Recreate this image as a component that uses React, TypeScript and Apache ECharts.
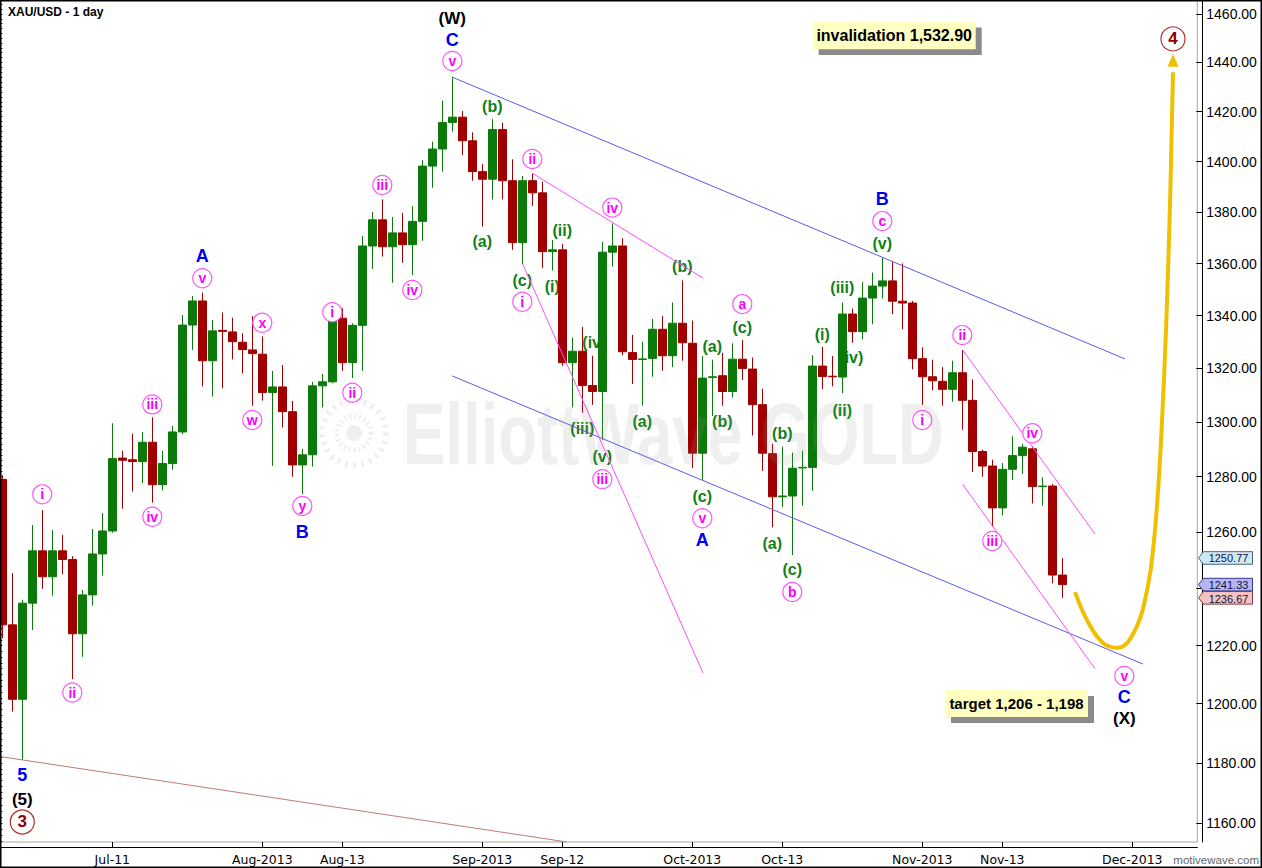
import React, { useEffect, useRef } from "react";
import * as echarts from "echarts";

// [date, open, high, low, close]
const candles: [string, number, number, number, number][] = [
  ["2013-06-26", 1279.0, 1280.5, 1222.5, 1227.2],
  ["2013-06-27", 1227.2, 1245.4, 1197.3, 1201.5],
  ["2013-06-28", 1201.5, 1236.0, 1180.9, 1234.8],
  ["2013-07-01", 1234.8, 1262.5, 1225.4, 1253.3],
  ["2013-07-02", 1253.3, 1267.9, 1239.8, 1244.1],
  ["2013-07-03", 1244.1, 1260.7, 1237.4, 1253.3],
  ["2013-07-04", 1253.3, 1259.0, 1245.0, 1250.2],
  ["2013-07-05", 1250.2, 1251.4, 1208.4, 1224.1],
  ["2013-07-08", 1224.1, 1239.4, 1216.1, 1237.7],
  ["2013-07-09", 1237.7, 1261.1, 1233.9, 1252.2],
  ["2013-07-10", 1252.2, 1266.8, 1244.5, 1260.4],
  ["2013-07-11", 1260.4, 1299.6, 1259.8, 1286.6],
  ["2013-07-12", 1286.8, 1289.5, 1268.4, 1286.0],
  ["2013-07-15", 1286.2, 1295.8, 1274.6, 1285.5],
  ["2013-07-16", 1285.5, 1296.4, 1277.7, 1292.6],
  ["2013-07-17", 1292.6, 1301.8, 1270.6, 1277.1],
  ["2013-07-18", 1277.1, 1289.4, 1275.0, 1284.8],
  ["2013-07-19", 1284.8, 1298.7, 1282.5, 1296.4],
  ["2013-07-22", 1296.4, 1340.2, 1295.5, 1336.4],
  ["2013-07-23", 1336.4, 1347.5, 1327.0, 1345.6],
  ["2013-07-24", 1345.6, 1348.8, 1313.3, 1322.9],
  ["2013-07-25", 1322.9, 1338.3, 1309.5, 1334.2],
  ["2013-07-26", 1334.4, 1341.2, 1312.6, 1334.0],
  ["2013-07-29", 1333.8, 1339.2, 1323.4, 1330.1],
  ["2013-07-30", 1329.9, 1333.3, 1318.1, 1327.1],
  ["2013-07-31", 1327.0, 1339.8, 1306.1, 1325.6],
  ["2013-08-01", 1325.4, 1332.1, 1308.0, 1311.0],
  ["2013-08-02", 1311.0, 1319.1, 1284.0, 1313.1],
  ["2013-08-05", 1313.1, 1321.3, 1298.0, 1303.9],
  ["2013-08-06", 1303.9, 1307.9, 1280.0, 1284.3],
  ["2013-08-07", 1284.3, 1290.2, 1273.7, 1288.0],
  ["2013-08-08", 1288.0, 1315.0, 1283.7, 1313.5],
  ["2013-08-09", 1313.5, 1318.0, 1305.5, 1315.0],
  ["2013-08-12", 1315.0, 1344.3, 1314.5, 1339.0],
  ["2013-08-13", 1339.0, 1342.8, 1319.1, 1322.2],
  ["2013-08-14", 1322.2, 1337.1, 1316.4, 1336.3],
  ["2013-08-15", 1336.3, 1370.7, 1319.1, 1366.8],
  ["2013-08-16", 1366.8, 1380.1, 1357.9, 1377.0],
  ["2013-08-19", 1377.0, 1385.0, 1362.7, 1366.5],
  ["2013-08-20", 1366.5, 1378.1, 1352.6, 1371.9],
  ["2013-08-21", 1371.9, 1379.7, 1360.3, 1367.3],
  ["2013-08-22", 1367.3, 1382.4, 1355.5, 1376.4],
  ["2013-08-23", 1376.4, 1400.6, 1368.8, 1398.2],
  ["2013-08-26", 1398.2, 1408.0, 1389.6, 1405.0],
  ["2013-08-27", 1405.0, 1424.4, 1396.0, 1415.6],
  ["2013-08-28", 1415.6, 1434.2, 1412.0, 1417.8],
  ["2013-08-29", 1417.8, 1420.3, 1402.6, 1408.3],
  ["2013-08-30", 1408.3, 1411.7, 1392.4, 1396.0],
  ["2013-09-02", 1396.0, 1399.0, 1374.4, 1393.0],
  ["2013-09-03", 1393.0, 1417.0, 1385.0, 1412.8],
  ["2013-09-04", 1412.8, 1415.6, 1385.0, 1392.4],
  ["2013-09-05", 1392.4, 1400.9, 1365.3, 1368.1],
  ["2013-09-06", 1368.1, 1394.3, 1359.7, 1392.4],
  ["2013-09-09", 1392.4, 1395.3, 1382.5, 1387.6],
  ["2013-09-10", 1387.6, 1392.0, 1358.2, 1364.6],
  ["2013-09-11", 1364.6, 1369.1, 1357.3, 1365.3],
  ["2013-09-12", 1365.3, 1367.6, 1321.0, 1322.2],
  ["2013-09-13", 1322.2, 1331.6, 1305.5, 1326.5],
  ["2013-09-16", 1326.5, 1335.7, 1303.5, 1313.6],
  ["2013-09-17", 1313.6, 1324.8, 1306.4, 1311.4],
  ["2013-09-18", 1311.4, 1368.4, 1293.5, 1364.4],
  ["2013-09-19", 1364.4, 1375.6, 1358.8, 1366.8],
  ["2013-09-20", 1366.8, 1369.8, 1325.0, 1326.3],
  ["2013-09-23", 1326.0, 1332.7, 1314.2, 1323.4],
  ["2013-09-24", 1323.4, 1330.1, 1306.1, 1323.6],
  ["2013-09-25", 1323.8, 1338.7, 1316.9, 1334.8],
  ["2013-09-26", 1334.8, 1339.8, 1319.2, 1324.8],
  ["2013-09-27", 1324.8, 1345.0, 1320.5, 1337.1],
  ["2013-09-30", 1337.1, 1353.5, 1322.9, 1329.7],
  ["2013-10-01", 1329.5, 1338.1, 1283.2, 1288.6],
  ["2013-10-02", 1288.6, 1324.7, 1278.9, 1316.4],
  ["2013-10-03", 1316.6, 1323.3, 1302.3, 1316.9],
  ["2013-10-04", 1317.3, 1325.9, 1306.1, 1311.4],
  ["2013-10-07", 1311.4, 1329.5, 1309.1, 1323.5],
  ["2013-10-08", 1323.5, 1330.8, 1315.7, 1320.0],
  ["2013-10-09", 1319.8, 1324.1, 1295.1, 1306.5],
  ["2013-10-10", 1306.5, 1312.4, 1282.1, 1288.6],
  ["2013-10-11", 1288.4, 1292.0, 1261.7, 1272.7],
  ["2013-10-14", 1272.7, 1291.0, 1269.1, 1273.0],
  ["2013-10-15", 1273.0, 1288.8, 1251.8, 1283.1],
  ["2013-10-16", 1283.2, 1289.5, 1269.5, 1283.4],
  ["2013-10-17", 1283.4, 1325.0, 1274.9, 1320.9],
  ["2013-10-18", 1320.9, 1328.2, 1312.3, 1317.0],
  ["2013-10-21", 1317.1, 1324.7, 1313.3, 1316.9],
  ["2013-10-22", 1316.8, 1345.0, 1310.8, 1340.6],
  ["2013-10-23", 1340.6, 1342.7, 1329.7, 1333.9],
  ["2013-10-24", 1333.9, 1352.8, 1331.0, 1346.7],
  ["2013-10-25", 1346.7, 1356.5, 1336.7, 1351.3],
  ["2013-10-28", 1351.3, 1362.4, 1346.5, 1353.3],
  ["2013-10-29", 1353.3, 1361.0, 1340.6, 1345.5],
  ["2013-10-30", 1345.5, 1360.0, 1334.8, 1344.8],
  ["2013-10-31", 1344.8, 1345.6, 1319.7, 1323.7],
  ["2013-11-01", 1323.7, 1328.0, 1306.4, 1316.9],
  ["2013-11-04", 1316.9, 1323.3, 1311.8, 1315.4],
  ["2013-11-05", 1315.2, 1320.5, 1306.1, 1312.2],
  ["2013-11-06", 1312.2, 1322.9, 1307.6, 1318.4],
  ["2013-11-07", 1318.4, 1327.0, 1297.2, 1308.1],
  ["2013-11-08", 1308.1, 1315.9, 1281.7, 1289.2],
  ["2013-11-11", 1289.2, 1289.8, 1280.0, 1283.9],
  ["2013-11-12", 1283.9, 1286.2, 1261.9, 1268.7],
  ["2013-11-13", 1268.7, 1285.0, 1266.0, 1282.7],
  ["2013-11-14", 1282.7, 1294.8, 1278.9, 1287.7],
  ["2013-11-15", 1287.7, 1292.0, 1281.0, 1290.8],
  ["2013-11-18", 1290.2, 1291.0, 1270.3, 1276.4],
  ["2013-11-19", 1276.4, 1279.8, 1269.5, 1276.6],
  ["2013-11-20", 1276.6, 1277.4, 1241.8, 1244.7],
  ["2013-11-21", 1244.7, 1250.77, 1236.67, 1241.33],
];

const futureDates = [
  "2013-11-22", "2013-11-25", "2013-11-26", "2013-11-27", "2013-11-28", "2013-11-29",
  "2013-12-02", "2013-12-03", "2013-12-04", "2013-12-05", "2013-12-06", "2013-12-09", "2013-12-10",
];

const yTicks = [1160, 1180, 1200, 1220, 1240, 1260, 1280, 1300, 1320, 1340, 1360, 1380, 1400, 1420, 1440, 1460];
// 1240.00 sits under the last-price tags in the reference, so it is not labelled
const yLabelTicks = [1160, 1180, 1200, 1220, 1260, 1280, 1300, 1320, 1340, 1360, 1380, 1400, 1420, 1440, 1460];
const yMinorStep = 2;
const yLow = 1153.72;
const yHigh = 1465.82;

const xTickPos = [11, 26, 34, 48, 56, 69, 78, 92, 100, 113];
const xTickText = ["Jul-11", "Aug-2013", "Aug-13", "Sep-2013", "Sep-12", "Oct-2013", "Oct-13", "Nov-2013", "Nov-13", "Dec-2013"];

// [text, bar position, price]
const minuteCircles: [string, number, number][] = [
  ["i", 4, 1273.6], ["ii", 7, 1203.8], ["iii", 15, 1306.6], ["iv", 15, 1265.5], ["v", 20, 1354.3],
  ["w", 25, 1300.8], ["x", 26, 1337.3], ["y", 30, 1269.4], ["i", 33, 1341.3], ["ii", 35, 1310.9],
  ["iii", 38, 1390.7], ["iv", 41, 1349.8], ["v", 45, 1440.6], ["i", 52, 1345.3], ["ii", 53, 1401.0],
  ["iii", 60, 1279.1], ["iv", 61, 1381.8], ["v", 70, 1265.0], ["a", 74, 1344.4], ["b", 79, 1238.7],
  ["c", 88, 1376.5], ["i", 92, 1300.8], ["ii", 96, 1332.6], ["iii", 99, 1256.8], ["iv", 103, 1295.9],
  ["v", 112.2, 1209.5],
];
const minuetteLabels: [string, number, number][] = [
  ["(b)", 49, 1422.0], ["(a)", 48, 1368.5], ["(c)", 52, 1353.6], ["(ii)", 56, 1373.0], ["(i)", 55, 1351.1],
  ["(iv)", 59.2, 1329.7], ["(iii)", 58, 1297.7], ["(v)", 60, 1287.3], ["(b)", 68, 1358.8], ["(a)", 64, 1300.4],
  ["(a)", 71, 1328.2], ["(c)", 74, 1335.6], ["(b)", 72, 1300.2], ["(c)", 70, 1272.8], ["(b)", 78, 1295.9],
  ["(a)", 77, 1256.0], ["(c)", 79, 1246.5], ["(i)", 82, 1332.9], ["(iii)", 84, 1350.7], ["(iv)", 84.9, 1324.3],
  ["(ii)", 84, 1304.5], ["(v)", 88, 1367.9],
];
const minorLabels: [string, number, number][] = [
  ["A", 20, 1363.0], ["B", 30, 1260.0], ["C", 45, 1449.2], ["A", 70, 1257.2], ["B", 88, 1385.2],
  ["C", 112.2, 1202.3], ["5", 2, 1175.9],
];
const intermediateLabels: [string, number, number][] = [
  ["(W)", 45, 1458.3], ["(5)", 2, 1167.6], ["(X)", 112.2, 1194.8],
];
const primaryCircles: [string, number, number][] = [
  ["3", 2, 1160.3], ["4", 117.07, 1449.7],
];

// [pos1, price1, pos2, price2]
const blueLines: [number, number, number, number][] = [
  [45, 1434.0, 112.27, 1323.6],
  [45, 1317.2, 114.07, 1213.6],
];
const pinkLines: [number, number, number, number][] = [
  [53.04, 1395.3, 70.1, 1354.3],
  [52.04, 1359.8, 70.07, 1210.5],
  [96.04, 1327.0, 109.27, 1259.3],
  [96.04, 1277.2, 109.27, 1212.0],
];
const brownLines: [number, number, number, number][] = [
  [-0.23, 1182.1, 56.47, 1153.72],
];
const projectionPath: [number, number][] = [
  [107.27, 1238.7], [108.57, 1228.2], [110.07, 1220.9], [111.57, 1219.2], [112.97, 1223.3],
  [114.27, 1235.9], [115.27, 1260.8], [116.07, 1308.2], [116.67, 1369.1], [117.07, 1436.0],
];
const projectionTip: [number, number] = [117.07, 1440.9];

// [price, fill, stroke, text nudge]
const priceTags: [number, string, string, number][] = [
  [1250.77, "#cfe9f2", "#46687a", 0],
  [1241.33, "#b6b6f5", "#383890", -0.5],
  [1236.67, "#f5c3c3", "#8c3c3c", 0.5],
];

const FONT = '"Liberation Sans", Arial, Helvetica, sans-serif';
const L = (v: number) => Math.log(v);

function textSeries(items: [string, number, number][], color: string, size: number, z: number) {
  return {
    type: "scatter",
    xAxisIndex: 1,
    yAxisIndex: 0,
    silent: true,
    z,
    symbolSize: 1,
    itemStyle: { color: "rgba(0,0,0,0)", opacity: 1 },
    label: {
      show: true,
      position: "inside",
      formatter: (p: any) => p.name,
      color,
      opacity: 1,
      fontFamily: FONT,
      fontWeight: "bold",
      fontSize: size,
    },
    emphasis: { disabled: true },
    data: items.map((d) => ({ name: d[0], value: [d[1], L(d[2])] })),
  };
}

function circleSeries(items: [string, number, number][], color: string, stroke: string, size: number, font: number) {
  return {
    type: "scatter",
    xAxisIndex: 1,
    yAxisIndex: 0,
    silent: true,
    z: 5,
    symbol: "circle",
    symbolSize: size,
    itemStyle: { color: "#ffffff", borderColor: stroke, borderWidth: 1.2, opacity: 1 },
    label: {
      show: true,
      position: "inside",
      formatter: (p: any) => p.name,
      color,
      opacity: 1,
      fontFamily: FONT,
      fontWeight: "bold",
      fontSize: font,
    },
    emphasis: { disabled: true },
    data: items.map((d) => ({ name: d[0], value: [d[1], L(d[2])] })),
  };
}

function segSeries(lines: [number, number, number, number][], color: string, width: number) {
  return lines.map((s) => ({
    type: "line",
    xAxisIndex: 1,
    yAxisIndex: 0,
    silent: true,
    z: 3,
    symbol: "none",
    lineStyle: { color, width, opacity: 1 },
    emphasis: { disabled: true },
    data: [[s[0], L(s[1])], [s[2], L(s[3])]],
  }));
}

export default function App() {
  const ref = useRef<HTMLDivElement>(null);

  useEffect(() => {
    if (!ref.current) return;
    const chart = echarts.init(ref.current, null, { renderer: "svg" });

    const categories = [...candles.map((c) => c[0]), ...futureDates];
    const yTickLn = yTicks.map(L);
    const yLabelLn = yLabelTicks.map(L);
    const minorLn: number[] = [];
    for (let v = 1154; v <= 1464; v += yMinorStep) minorLn.push(L(v));

    const option: any = {
      animation: false,
      backgroundColor: "#ffffff",
      grid: {
        left: -2.7,
        top: 0,
        width: 1200,
        height: 842,
        show: true,
        borderColor: "#a9a99c",
        borderWidth: 1,
        backgroundColor: "transparent",
        outerBoundsMode: "none",
        containLabel: false,
      },
      xAxis: [
        { type: "category", data: categories, show: false, boundaryGap: true },
        {
          type: "value",
          min: -0.5,
          max: 119.5,
          position: "bottom",
          offset: 5,
          axisLine: { show: true, onZero: false, lineStyle: { color: "#000", width: 1 } },
          axisTick: { show: true, inside: true, length: 5, customValues: xTickPos, lineStyle: { color: "#000" } },
          axisLabel: {
            show: true,
            customValues: xTickPos,
            formatter: (v: number) => {
              let best = 0;
              for (let i = 0; i < xTickPos.length; i++) if (Math.abs(xTickPos[i] - v) < Math.abs(xTickPos[best] - v)) best = i;
              return xTickText[best];
            },
            fontFamily: '"DejaVu Sans", sans-serif',
            fontSize: 12.5,
            color: "#000",
            margin: 6,
          },
          splitLine: { show: false },
        },
      ],
      yAxis: [
        {
          type: "value",
          min: L(yLow),
          max: L(yHigh),
          position: "right",
          offset: 5,
          axisLine: { show: true, onZero: false, lineStyle: { color: "#000", width: 1 } },
          axisTick: { show: true, inside: true, length: 6, customValues: yTickLn, lineStyle: { color: "#000" } },
          axisLabel: {
            show: true,
            customValues: yLabelLn,
            formatter: (v: number) => Math.round(Math.exp(v)).toFixed(2),
            fontFamily: FONT,
            fontSize: 14,
            color: "#000",
            margin: 4,
          },
          splitLine: { show: false },
        },
        {
          type: "value",
          min: L(yLow),
          max: L(yHigh),
          position: "right",
          offset: 5,
          axisLine: { show: false },
          axisTick: { show: true, inside: true, length: 3, customValues: minorLn, lineStyle: { color: "#000" } },
          axisLabel: { show: false },
          splitLine: { show: false },
        },
      ],
      series: [
        textSeries(minuetteLabels, "#0f7f17", 16, 1),
        {
          type: "candlestick",
          xAxisIndex: 0,
          yAxisIndex: 0,
          silent: true,
          z: 2,
          barWidth: 8,
          itemStyle: {
            color: "#0b7a0b",
            color0: "#a00000",
            borderColor: "#0b7a0b",
            borderColor0: "#a00000",
            borderWidth: 1,
            opacity: 1,
          },
          emphasis: { disabled: true },
          data: candles.map((c) => [L(c[1]), L(c[4]), L(c[3]), L(c[2])]),
        },
        ...segSeries(blueLines, "#5a5aee", 1),
        ...segSeries(pinkLines, "#ff4dff", 1),
        ...segSeries(brownLines, "#c07a7a", 1),
        {
          type: "line",
          xAxisIndex: 1,
          yAxisIndex: 0,
          silent: true,
          z: 4,
          symbol: "none",
          smooth: 0.4,
          lineStyle: { color: "#f0c000", width: 4, opacity: 1 },
          emphasis: { disabled: true },
          data: projectionPath.map((p) => [p[0], L(p[1])]),
        },
        {
          type: "scatter",
          xAxisIndex: 1,
          yAxisIndex: 0,
          silent: true,
          z: 4,
          symbol: "triangle",
          symbolSize: [11, 13],
          itemStyle: { color: "#f0c000", opacity: 1 },
          emphasis: { disabled: true },
          data: [[projectionTip[0], L(projectionTip[1])]],
        },
        circleSeries(minuteCircles, "#ff00ff", "#ff55ff", 19, 14),
        textSeries(minorLabels, "#0000ee", 18, 5),
        textSeries(intermediateLabels, "#000000", 17, 5),
        circleSeries(primaryCircles, "#8b0000", "#b03030", 24, 17),
      ],
    };

    chart.setOption(option);

    const graphics: any[] = [
      // watermark
      {
        type: "circle", silent: true, z: 10,
        shape: { cx: 354, cy: 433, r: 32 },
        style: { fill: "none", stroke: "rgba(150,150,150,0.15)", lineWidth: 6, lineDash: [3, 5] },
      },
      {
        type: "circle", silent: true, z: 10,
        shape: { cx: 354, cy: 433, r: 17 },
        style: { fill: "none", stroke: "rgba(150,150,150,0.15)", lineWidth: 5, lineDash: [2, 3] },
      },
      {
        type: "circle", silent: true, z: 10,
        shape: { cx: 354, cy: 433, r: 8 },
        style: { fill: "rgba(150,150,150,0.15)" },
      },
      {
        type: "text", silent: true, z: 10,
        x: 403, y: 434, scaleX: 0.73,
        style: {
          x: 0, y: 0,
          text: "ElliottWave GOLD",
          font: 'bold 87px "Liberation Sans", Arial, sans-serif',
          fill: "rgba(150,150,150,0.15)",
          textAlign: "left", textVerticalAlign: "middle",
          align: "left", verticalAlign: "middle",
        },
      },
      // invalidation box
      { type: "rect", silent: true, z: 20, shape: { x: 818.7, y: 27.5, width: 163, height: 27.6 }, style: { fill: "#8a8a8a" } },
      { type: "rect", silent: true, z: 21, shape: { x: 812.7, y: 21.7, width: 163, height: 27.6 }, style: { fill: "#ffffc2" } },
      {
        type: "text", silent: true, z: 22, x: 894.2, y: 35.5,
        style: {
          x: 0, y: 0, text: "invalidation 1,532.90", font: `bold 16px ${FONT}`, fill: "#000",
          textAlign: "center", textVerticalAlign: "middle", align: "center", verticalAlign: "middle",
        },
      },
      // target box
      { type: "rect", silent: true, z: 20, shape: { x: 951, y: 696, width: 143, height: 27 }, style: { fill: "#8a8a8a" } },
      { type: "rect", silent: true, z: 21, shape: { x: 945, y: 690, width: 143, height: 27 }, style: { fill: "#ffffc2" } },
      {
        type: "text", silent: true, z: 22, x: 1016.5, y: 703.5,
        style: {
          x: 0, y: 0, text: "target 1,206 - 1,198", font: `bold 15px ${FONT}`, fill: "#000",
          textAlign: "center", textVerticalAlign: "middle", align: "center", verticalAlign: "middle",
        },
      },
      // title
      {
        type: "text", silent: true, z: 22, x: 8, y: 12,
        style: {
          x: 0, y: 0, text: "XAU/USD - 1 day", font: `bold 12px ${FONT}`, fill: "#000",
          textAlign: "left", textVerticalAlign: "middle", align: "left", verticalAlign: "middle",
        },
      },
      {
        type: "text", silent: true, z: 22, x: 1259, y: 860,
        style: {
          x: 0, y: 0, text: "motivewave.com", font: `11.5px ${FONT}`, fill: "#666666",
          textAlign: "right", textVerticalAlign: "middle", align: "right", verticalAlign: "middle",
        },
      },
      // outer border
      {
        type: "rect", silent: true, z: 50,
        shape: { x: 0.75, y: 0.75, width: 1260.5, height: 866.5 },
        style: { fill: "none", stroke: "#000", lineWidth: 1.5 },
      },
    ];

    priceTags.forEach((t) => {
      const y = chart.convertToPixel({ yAxisIndex: 0 } as any, L(t[0])) as unknown as number;
      graphics.push({
        type: "group", silent: true, z: 30, x: 1198.5, y,
        children: [
          {
            type: "polygon", z: 30,
            shape: { points: [[0, 0], [5, -6.3], [54, -6.3], [54, 6.3], [5, 6.3]] },
            style: { fill: t[1], stroke: t[2], lineWidth: 1 },
          },
          {
            type: "text", z: 31, x: 30, y: 0.5 + t[3],
            style: {
              x: 0, y: 0, text: t[0].toFixed(2), font: `11px ${FONT}`, fill: "#10103a",
              textAlign: "center", textVerticalAlign: "middle", align: "center", verticalAlign: "middle",
            },
          },
        ],
      });
    });

    chart.setOption({ graphic: graphics });

    return () => {
      chart.dispose();
    };
  }, []);

  return (
    <div
      ref={ref}
      style={{ position: "fixed", left: 0, top: 0, width: 1262, height: 868, background: "#fff" }}
    />
  );
}
